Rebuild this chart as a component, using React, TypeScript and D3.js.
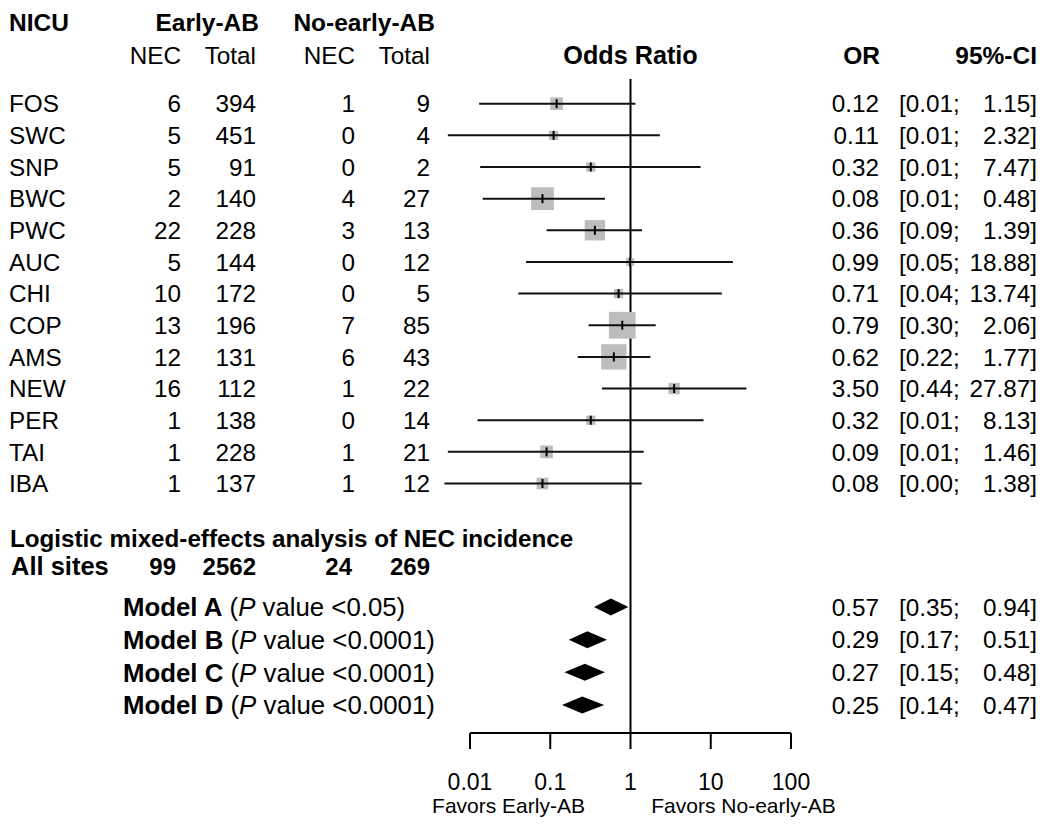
import React from "react";
import * as d3 from "d3";

// ---- data ----
const sites = ["FOS", "SWC", "SNP", "BWC", "PWC", "AUC", "CHI", "COP", "AMS", "NEW", "PER", "TAI", "IBA"];
const earlyNEC = [6, 5, 5, 2, 22, 5, 10, 13, 12, 16, 1, 1, 1];
const earlyTotal = [394, 451, 91, 140, 228, 144, 172, 196, 131, 112, 138, 228, 137];
const noEarlyNEC = [1, 0, 0, 4, 3, 0, 0, 7, 6, 1, 0, 1, 1];
const noEarlyTotal = [9, 4, 2, 27, 13, 12, 5, 85, 43, 22, 14, 21, 12];
const oddsRatio = [0.12, 0.11, 0.32, 0.08, 0.36, 0.99, 0.71, 0.79, 0.62, 3.5, 0.32, 0.09, 0.08];
const ciLower = [0.013, 0.0053, 0.0134, 0.0144, 0.09, 0.05, 0.04, 0.3, 0.22, 0.44, 0.0124, 0.0053, 0.0048];
const ciUpper = [1.15, 2.32, 7.47, 0.48, 1.39, 18.88, 13.74, 2.06, 1.77, 27.87, 8.13, 1.46, 1.38];
const weights = [4.5, 2.4, 2.4, 14.5, 11.6, 1.8, 2.4, 20, 18, 3.6, 2.4, 4.5, 3.8];

const allSites = [99, 2562, 24, 269];
const models = ["Model A", "Model B", "Model C", "Model D"];
const modelP = ["<0.05", "<0.0001", "<0.0001", "<0.0001"];
const modelOR = [0.57, 0.29, 0.27, 0.25];
const modelLower = [0.35, 0.17, 0.15, 0.14];
const modelUpper = [0.94, 0.51, 0.48, 0.47];

const tickValues = [0.01, 0.1, 1, 10, 100];
const tickLabels = ["0.01", "0.1", "1", "10", "100"];

// ---- layout ----
const W = 1050;
const H = 835;
const FONT = "'Liberation Sans', Arial, Helvetica, sans-serif";

const x = d3.scaleLog().domain([0.01, 100]).range([470, 791]);
const yRow = d3.scaleLinear().domain([0, sites.length - 1]).range([103.7, 103.7 + 31.65 * (sites.length - 1)]);
const yModel = d3.scaleLinear().domain([0, models.length - 1]).range([607, 705]);
const boxSize = d3.scaleSqrt().domain([0, 20]).range([0, 26.7]);

const colNICU = 9;
const colEarlyNEC = 181;
const colEarlyTot = 256;
const colNoNEC = 355;
const colNoTot = 430;
const colOR = 879;
const colCIL = 899;
const colCIR = 1037;

const fs = 24.3;
const base = (cy: number, size: number) => cy + size * 0.36;

const fmt = (v: number) => v.toFixed(2);

export default function App() {
  const axisY = 733;
  const nullX = x(1);

  const T = (props: any) => (
    <text fontFamily={FONT} fontSize={fs} fill="#000" {...props} />
  );

  return (
    <svg
      width={W}
      height={H}
      style={{ position: "absolute", left: 0, top: 0, background: "#fff" }}
    >
      <rect width={W} height={H} fill="#fff" />

      {/* headers */}
      <T x={colNICU} y={base(22, 24.5)} fontWeight="bold" fontSize={24.5}>NICU</T>
      <T x={259} y={base(22, 24.5)} fontWeight="bold" fontSize={24.5} textAnchor="end">Early-AB</T>
      <T x={435} y={base(22, 24.5)} fontWeight="bold" fontSize={24.5} textAnchor="end">No-early-AB</T>
      <T x={colEarlyNEC} y={base(55, fs)} textAnchor="end">NEC</T>
      <T x={colEarlyTot} y={base(55, fs)} textAnchor="end">Total</T>
      <T x={colNoNEC} y={base(55, fs)} textAnchor="end">NEC</T>
      <T x={colNoTot} y={base(55, fs)} textAnchor="end">Total</T>
      <T x={nullX} y={base(55, 25.2)} fontWeight="bold" fontSize={25.2} textAnchor="middle">Odds Ratio</T>
      <T x={colOR + 1} y={base(55, 24.5)} fontWeight="bold" fontSize={24.5} textAnchor="end">OR</T>
      <T x={colCIR} y={base(55, 24.5)} fontWeight="bold" fontSize={24.5} textAnchor="end">95%-CI</T>

      {/* null line */}
      <line x1={nullX} x2={nullX} y1={79} y2={axisY} stroke="#000" strokeWidth={2} />

      {/* study rows */}
      {sites.map((s, i) => {
        const cy = yRow(i);
        const by = base(cy, fs);
        const bs = boxSize(weights[i]);
        const px = x(oddsRatio[i]);
        return (
          <g key={s}>
            <T x={colNICU} y={by}>{s}</T>
            <T x={colEarlyNEC} y={by} textAnchor="end">{earlyNEC[i]}</T>
            <T x={colEarlyTot} y={by} textAnchor="end">{earlyTotal[i]}</T>
            <T x={colNoNEC} y={by} textAnchor="end">{noEarlyNEC[i]}</T>
            <T x={colNoTot} y={by} textAnchor="end">{noEarlyTotal[i]}</T>
            <rect x={px - bs / 2} y={cy - bs / 2} width={bs} height={bs} fill="#bdbdbd" />
            <line x1={x(ciLower[i])} x2={x(ciUpper[i])} y1={cy} y2={cy} stroke="#111" strokeWidth={2} />
            <line x1={px} x2={px} y1={cy - 4.5} y2={cy + 4.5} stroke="#000" strokeWidth={2} />
            <T x={colOR} y={by} textAnchor="end">{fmt(oddsRatio[i])}</T>
            <T x={colCIL} y={by}>{`[${fmt(ciLower[i])};`}</T>
            <T x={colCIR} y={by} textAnchor="end">{`${fmt(ciUpper[i])}]`}</T>
          </g>
        );
      })}

      {/* pooled section */}
      <T x={10} y={547} fontWeight="bold" fontSize={24.2}>Logistic mixed-effects analysis of NEC incidence</T>
      <T x={11} y={575} fontWeight="bold" fontSize={25.5}>All sites</T>
      {[colEarlyNEC - 5, colEarlyTot, colNoNEC - 3, colNoTot].map((cx, k) => (
        <T key={k} x={cx} y={575} fontWeight="bold" fontSize={24} textAnchor="end">{allSites[k]}</T>
      ))}

      {models.map((m, i) => {
        const cy = yModel(i);
        const by = base(cy, 25.8);
        const xl = x(modelLower[i]);
        const xr = x(modelUpper[i]);
        const xc = x(modelOR[i]);
        const h = 8.5;
        const path = `M${xl},${cy} L${xc},${cy - h} L${xr},${cy} L${xc},${cy + h} Z`;
        return (
          <g key={m}>
            <T x={123} y={by} fontSize={25.8}>
              <tspan fontWeight="bold">{m}</tspan>
              <tspan> (</tspan>
              <tspan fontStyle="italic">P</tspan>
              <tspan>{` value ${modelP[i]})`}</tspan>
            </T>
            <path d={path} fill="#000" />
            <T x={colOR} y={base(cy, fs)} textAnchor="end">{fmt(modelOR[i])}</T>
            <T x={colCIL} y={base(cy, fs)}>{`[${fmt(modelLower[i])};`}</T>
            <T x={colCIR} y={base(cy, fs)} textAnchor="end">{`${fmt(modelUpper[i])}]`}</T>
          </g>
        );
      })}

      {/* axis */}
      <line x1={x(0.01)} x2={x(100)} y1={axisY} y2={axisY} stroke="#000" strokeWidth={2} />
      {tickValues.map((t, i) => (
        <g key={t}>
          <line x1={x(t)} x2={x(t)} y1={axisY} y2={axisY + 16} stroke="#000" strokeWidth={2} />
          <T x={x(t)} y={790} fontSize={23} textAnchor="middle">{tickLabels[i]}</T>
        </g>
      ))}
      <T x={nullX - 122} y={813} fontSize={21} textAnchor="middle">Favors Early-AB</T>
      <T x={nullX + 113} y={813} fontSize={21} textAnchor="middle">Favors No-early-AB</T>
    </svg>
  );
}
